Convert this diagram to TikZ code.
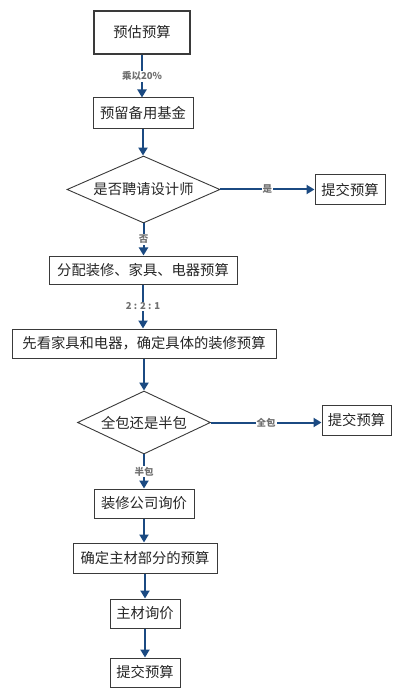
\documentclass[tikz,border=0pt]{standalone}
\usepackage{fontspec}
\setmainfont{Noto Sans CJK SC}
\usetikzlibrary{shapes.geometric,arrows.meta}
\definecolor{arrowblue}{HTML}{1B4A82}
\definecolor{boxline}{HTML}{3A3A3A}
\definecolor{lbl}{HTML}{707070}
\begin{document}
\begin{tikzpicture}[x=1pt,y=-1pt,
  box/.style={draw=boxline,line width=1pt,fill=white,inner sep=0pt,font=\fontsize{14.3}{16}\selectfont,text=black!85},
  dia/.style={diamond,draw=boxline,line width=0.9pt,fill=white,inner sep=0pt,aspect=2.2,font=\fontsize{14.3}{16}\selectfont,text=black!85},
  flow/.style={draw=arrowblue,line width=2pt,-{Triangle[length=8pt,width=9pt]}},
  lab/.style={fill=white,inner sep=1pt,font=\bfseries\fontsize{9.5}{10}\selectfont,text=lbl}]
\useasboundingbox (0,0) rectangle (404,700);
\fill[white] (0,0) rectangle (404,700);
\node[box,line width=1.6pt,minimum width=96pt,minimum height=43pt] (b1) at (142,32.5) {预估预算};
\node[box,minimum width=100pt,minimum height=31pt] (b2) at (143,113.5) {预留备用基金};
\node[dia,minimum width=153pt,minimum height=67pt] (d1) at (143.5,189.5) {是否聘请设计师};
\node[box,minimum width=70pt,minimum height=30pt] (r1) at (350,190) {提交预算};
\node[box,minimum width=188pt,minimum height=28pt] (b3) at (143,270) {分配装修、家具、电器预算};
\node[box,minimum width=264pt,minimum height=29pt] (b4) at (144,343.5) {先看家具和电器，确定具体的装修预算};
\node[dia,minimum width=133pt,minimum height=63pt] (d2) at (144,422.5) {全包还是半包};
\node[box,minimum width=69pt,minimum height=30pt] (r2) at (356.5,420) {提交预算};
\node[box,minimum width=100pt,minimum height=29pt] (b5) at (144,503.5) {装修公司询价};
\node[box,minimum width=144pt,minimum height=30pt] (b6) at (145,558) {确定主材部分的预算};
\node[box,minimum width=70pt,minimum height=29pt] (b7) at (145,613.5) {主材询价};
\node[box,minimum width=70pt,minimum height=29pt] (b8) at (145,672.5) {提交预算};
\draw[flow] (b1.south) -- node[lab] {乘以20\%} (b1.south |- b2.north);
\draw[flow] (b2.south) -- (b2.south |- d1.north);
\draw[flow] (d1.east) -- node[lab] {是} (d1.east -| r1.west);
\draw[flow] (d1.south) -- node[lab] {否} (d1.south |- b3.north);
\draw[flow] (b3.south) -- node[lab] {2 : 2 : 1} (b3.south |- b4.north);
\draw[flow] (b4.south) -- (b4.south |- d2.north);
\draw[flow] (d2.east) -- node[lab] {全包} (d2.east -| r2.west);
\draw[flow] (d2.south) -- node[lab] {半包} (d2.south |- b5.north);
\draw[flow] (b5.south) -- (b5.south |- b6.north);
\draw[flow] (b6.south) -- (b6.south |- b7.north);
\draw[flow] (b7.south) -- (b7.south |- b8.north);
\end{tikzpicture}
\end{document}
